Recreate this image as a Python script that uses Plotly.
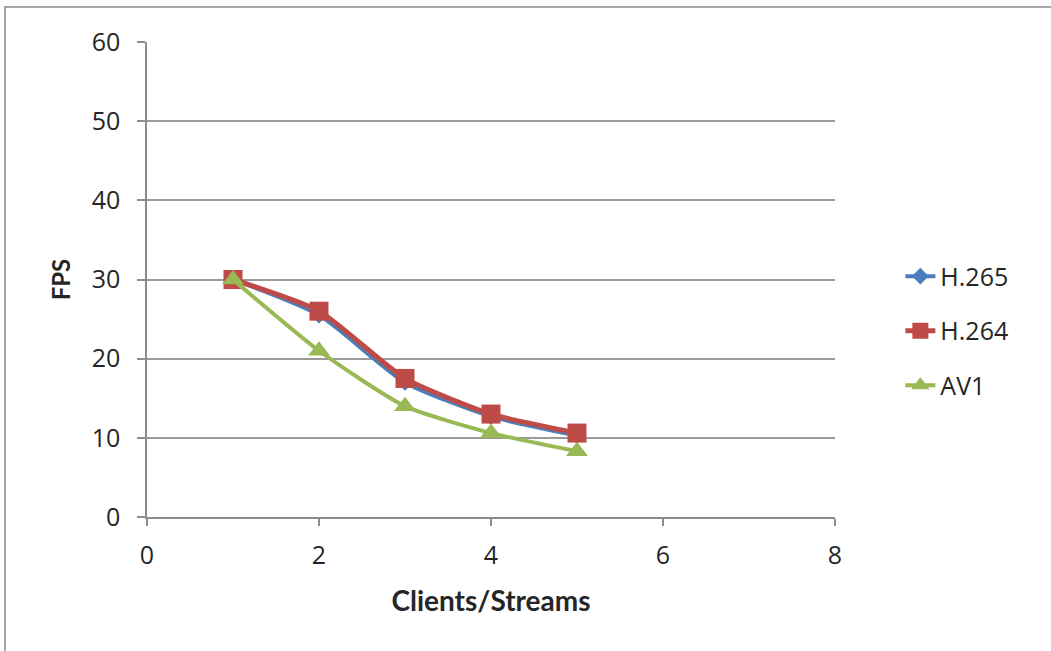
import plotly.graph_objects as go

# Frames per second as the number of clients/streams grows
clients = [1, 2, 3, 4, 5]
fps_h265 = [30, 25.5, 17, 12.7, 10.3]
fps_h264 = [30, 26, 17.5, 13, 10.6]
fps_av1 = [30, 21, 14, 10.6, 8.3]

x_ticks = [0, 2, 4, 6, 8]
y_ticks = [0, 10, 20, 30, 40, 50, 60]

series = [
    ("H.265", fps_h265, "#4A7EBB", "diamond", 13, 4),
    ("H.264", fps_h264, "#BE4B48", "square", 19, 5),
    ("AV1", fps_av1, "#98B954", "triangle-up", 19, 4),
]

fig = go.Figure()
for i, (name, vals, color, symbol, size, width) in enumerate(series):
    fig.add_trace(go.Scatter(
        x=clients, y=vals, name=name, mode="lines+markers",
        line=dict(color=color, width=width, shape="spline", smoothing=0.6),
        marker=dict(symbol=symbol, size=size, color=color),
        legendgroup=f"g{i}",
    ))

label_font = "'Open Sans', sans-serif"
title_font = "Lato, 'Open Sans', sans-serif"

fig.update_layout(
    width=1051, height=651,
    margin=dict(l=147, r=216, t=42, b=134),
    paper_bgcolor="white", plot_bgcolor="white",
    font=dict(family=label_font, size=25, color="#262626"),
    showlegend=True,
    legend=dict(
        x=1.095, xanchor="left", y=0.555, yanchor="top",
        font=dict(family=label_font, size=25, color="#262626"),
        tracegroupgap=19, bgcolor="rgba(0,0,0,0)", itemsizing="trace",
    ),
    xaxis=dict(
        range=[0, 8], tickvals=x_ticks, ticktext=[str(v) for v in x_ticks],
        showgrid=False, zeroline=False,
        showline=True, linecolor="#8c8c8c", linewidth=1.5,
        ticks="outside", ticklen=7, tickcolor="#8c8c8c", tickwidth=1.5,
        ticklabelstandoff=8,
        tickfont=dict(family=label_font, size=25),
        title=dict(text="<b>Clients/Streams</b>",
                   font=dict(family=title_font, size=28), standoff=22),
    ),
    yaxis=dict(
        range=[0, 60], tickvals=y_ticks, ticktext=[str(v) for v in y_ticks],
        showgrid=True, gridcolor="#9a9a9a", gridwidth=1.5, zeroline=False,
        showline=True, linecolor="#8c8c8c", linewidth=1.5,
        ticks="outside", ticklen=8, tickcolor="#8c8c8c", tickwidth=1.5,
        ticklabelstandoff=12,
        tickfont=dict(family=label_font, size=25),
        title=dict(text="<b>FPS</b>",
                   font=dict(family=title_font, size=24), standoff=14),
    ),
    shapes=[dict(
        type="rect", xref="paper", yref="paper",
        x0=-0.2064, x1=1.6, y0=1.0737, y1=-0.6,
        line=dict(color="#a6a6a6", width=2), layer="below",
    )],
)

fig.write_html("out.html")
